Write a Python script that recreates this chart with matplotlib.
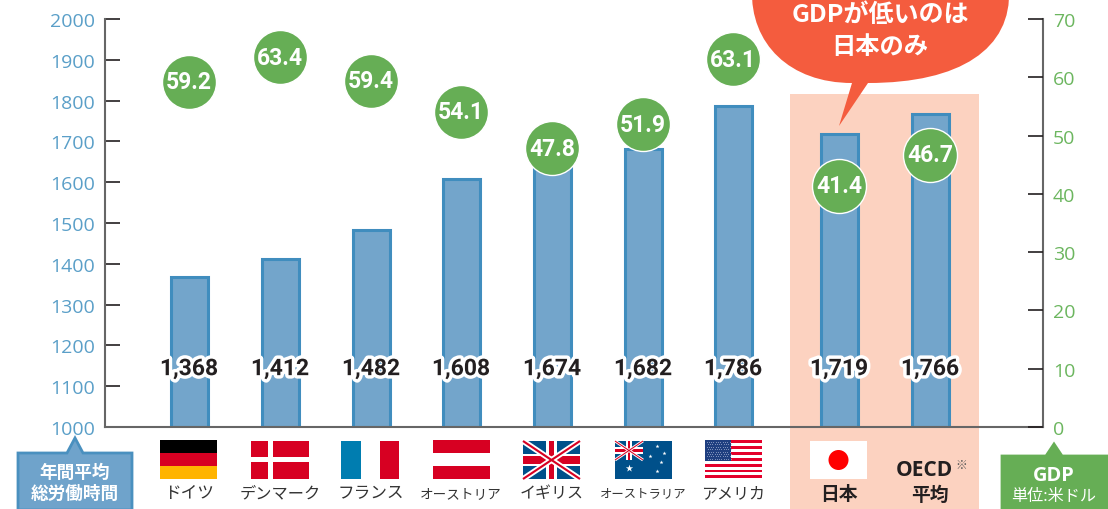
"""Working hours and GDP per hour, by country (bars + circles, flags under the axis)."""

import matplotlib
matplotlib.use('Agg')
import matplotlib.pyplot as plt
import matplotlib.patheffects as pe
from matplotlib.patches import Rectangle, Circle, Polygon, PathPatch
from matplotlib.path import Path

plt.rcParams['font.family'] = ['Open Sans', 'Noto Sans CJK JP', 'DejaVu Sans']

countries = ['ドイツ', 'デンマーク', 'フランス', 'オーストリア', 'イギリス',
             'オーストラリア', 'アメリカ', '日本', 'OECD平均']
hours = [1368, 1412, 1482, 1608, 1674, 1682, 1786, 1719, 1766]
gdp = [59.2, 63.4, 59.4, 54.1, 47.8, 51.9, 63.1, 41.4, 46.7]
hour_ticks = list(range(1000, 2001, 100))
gdp_ticks = list(range(0, 71, 10))

# bar centres, in figure pixels
bar_x = [189, 280, 371, 461, 552, 643, 733, 839, 930]

BAR_FILL = '#73A5CB'
BAR_EDGE = '#408DBE'
BLUE_TEXT = '#5A9FC8'
GREEN = '#66AE55'
GREEN_TEXT = '#6CB65F'
PEACH = '#FCD2C0'
RED = '#F45C3E'
AXIS_GREY = '#666666'
INK = '#231F20'
JP = ['Noto Sans CJK JP', 'DejaVu Sans']
NUM = ['Roboto', 'DejaVu Sans']
FLAG_RED = '#D70022'
NAVY = '#00508A'


def rect(pa, x, y, w, h, color):
    pa.add_patch(Rectangle((x, y), w, h, fc=color, ec='none'))


def germany(pa, x, y):
    for i, color in enumerate(['#000000', '#D70022', '#FFB400']):
        rect(pa, x, y + i * 13, 57, 13.1, color)


def denmark(pa, x, y):
    rect(pa, x, y, 58, 38, FLAG_RED)
    rect(pa, x + 17, y, 4.5, 38, 'white')
    rect(pa, x, y + 16, 58, 5, 'white')


def france(pa, x, y):
    rect(pa, x, y, 20, 38, '#007DB0')
    rect(pa, x + 39, y, 19, 38, FLAG_RED)


def austria(pa, x, y):
    rect(pa, x, y, 57, 13, FLAG_RED)
    rect(pa, x, y + 26, 57, 13, FLAG_RED)


def union_jack(pa, x, y, w, h):
    rect(pa, x, y, w, h, NAVY)
    pa.plot([x, x + w], [y, y + h], color='white', lw=h * 0.11, solid_capstyle='butt')
    pa.plot([x, x + w], [y + h, y], color='white', lw=h * 0.11, solid_capstyle='butt')
    pa.plot([x, x + w], [y, y + h], color=FLAG_RED, lw=h * 0.04, solid_capstyle='butt')
    pa.plot([x, x + w], [y + h, y], color=FLAG_RED, lw=h * 0.04, solid_capstyle='butt')
    rect(pa, x + w * 0.4, y, w * 0.2, h, 'white')
    rect(pa, x, y + h * 0.34, w, h * 0.32, 'white')
    rect(pa, x + w * 0.45, y, w * 0.1, h, FLAG_RED)
    rect(pa, x, y + h * 0.4, w, h * 0.2, FLAG_RED)


def australia(pa, x, y):
    rect(pa, x, y, 57, 38, NAVY)
    union_jack(pa, x, y, 28, 19)
    pa.scatter([x + 14], [y + 27], marker='*', s=30, color='white', linewidths=0)
    star_x = [42, 35, 49, 46, 42]
    star_y = [5, 15, 12, 21, 30]
    pa.scatter([x + i for i in star_x], [y + j for j in star_y], marker='*', s=9,
               color='white', linewidths=0)


def usa(pa, x, y):
    for i in range(13):
        if i % 2 == 0:
            rect(pa, x, y + i * 2.95, 57, 2.95, '#E4002B')
    rect(pa, x, y, 26, 20.6, '#1F3F80')
    for row in range(8):
        for col in range(11):
            pa.plot(x + 1.5 + col * 2.3 + (row % 2) * 1.1, y + 2 + row * 2.4, '.',
                    color='#B9C4DE', ms=1, mew=0)


def japan(pa, x, y):
    rect(pa, x, y, 57, 38, 'white')
    pa.add_patch(Circle((x + 28.5, y + 19), 10, fc='#FF0000', ec='none'))


def tag(pa, x0, x1, top, tip_x, tip_y, fill, edge):
    pts = [(x0, 511), (x0, top), (tip_x - 8, top), (tip_x, tip_y), (tip_x + 8, top),
           (x1, top), (x1, 511)]
    pa.add_patch(Polygon(pts, closed=True, fc=fill, ec=edge, lw=2))


def callout(pa):
    verts = [(752, -10), (750, 45), (790, 84), (852, 84), (839, 127), (868, 84),
             (960, 84), (1012, 50), (1009, -10), (752, -10)]
    codes = [Path.MOVETO, Path.CURVE4, Path.CURVE4, Path.CURVE4, Path.LINETO, Path.LINETO,
             Path.CURVE4, Path.CURVE4, Path.CURVE4, Path.CLOSEPOLY]
    pa.add_patch(PathPatch(Path(verts, codes), fc=RED, ec='none'))


fig = plt.figure(figsize=(11.08, 5.10), dpi=100)

# pixel layer under the chart, for the highlight band
under = fig.add_axes([0, 0, 1, 1], zorder=0)
under.set_xlim(0, 1108)
under.set_ylim(510, 0)
under.axis('off')
rect(under, 790, 95, 189, 415, PEACH)

# the chart itself
ax = fig.add_axes([105 / 1108, 82 / 510, 938 / 1108, 408 / 510], zorder=1)
ax.patch.set_alpha(0)
ax.set_xlim(105, 1043)
ax.set_ylim(1000, 2000)
ax.bar(bar_x, [h - 1000 for h in hours], bottom=1000, width=37, color=BAR_FILL,
       edgecolor=BAR_EDGE, linewidth=2.2)
ax.set_xticks([])
ax.set_yticks(hour_ticks)
ax.tick_params(axis='y', direction='in', length=11, width=1.2, color=INK,
               labelcolor=BLUE_TEXT, labelsize=14, pad=7)
ax.spines['top'].set_visible(False)
for side in ['left', 'bottom', 'right']:
    ax.spines[side].set_color(AXIS_GREY)
    ax.spines[side].set_linewidth(1.5)

for x, h in zip(bar_x, hours):
    ax.text(x, 1143, '{:,}'.format(h), ha='center', va='center', fontsize=16.5, fontweight='bold',
            family=NUM, color=INK,
            path_effects=[pe.withStroke(linewidth=5, foreground='white')])

ax2 = ax.twinx()
ax2.set_zorder(2)
ax2.patch.set_alpha(0)
ax2.set_ylim(0, 70)
ax2.set_yticks(gdp_ticks)
ax2.tick_params(axis='y', direction='in', length=11, width=1.2, color=INK,
                labelcolor=GREEN_TEXT, labelsize=14, pad=7)
for side in ['top', 'left', 'bottom', 'right']:
    ax2.spines[side].set_visible(False)
ax2.scatter(bar_x, gdp, s=1512, color=GREEN, edgecolor='white', linewidth=1, zorder=5, clip_on=False)
for x, g in zip(bar_x, gdp):
    ax2.text(x, g, '{:.1f}'.format(g), ha='center', va='center', fontsize=16.5, fontweight='bold',
             family=NUM, color='white', zorder=6)

# pixel layer on top: flags, tags, callout
pa = fig.add_axes([0, 0, 1, 1], zorder=3)
pa.patch.set_alpha(0)
pa.axis('off')

germany(pa, 160, 441)
denmark(pa, 251, 442)
france(pa, 341, 442)
austria(pa, 433, 441)
union_jack(pa, 523, 442, 57, 38)
australia(pa, 615, 442)
usa(pa, 705, 441)
japan(pa, 810, 442)
pa.set_xlim(0, 1108)
pa.set_ylim(510, 0)

label_size = [12, 11.7, 12, 9.8, 11.5, 8.9, 11.5]
for x, name, size in zip(bar_x, countries[:7], label_size):
    pa.text(x, 494, name, ha='center', va='center', fontsize=size, family=JP, color='#333333')
pa.text(839, 495, countries[7], ha='center', va='center', fontsize=13.5, fontweight='bold',
        family=JP, color=INK)
pa.text(924, 471, 'OECD', ha='center', va='center', fontsize=15, fontweight='bold', color=INK)
pa.text(961, 466, '※', ha='center', va='center', fontsize=8.5, family=JP, color='#555555')
pa.text(930, 495, '平均', ha='center', va='center', fontsize=13.5, fontweight='bold', family=JP,
        color=INK)

tag(pa, 18, 132, 454, 75, 439, '#6FA3CB', '#4A90BF')
pa.text(75, 473, '年間平均', ha='center', va='center', fontsize=12.7, fontweight='bold', family=JP,
        color='white')
pa.text(75, 494, '総労働時間', ha='center', va='center', fontsize=12.7, fontweight='bold', family=JP,
        color='white')

tag(pa, 1002, 1112, 457, 1054, 445, GREEN, GREEN)
pa.text(1054, 476, 'GDP', ha='center', va='center', fontsize=14.4, fontweight='bold', color='white')
pa.text(1054, 497, '単位:米ドル', ha='center', va='center', fontsize=11.6, family=JP, color='white')

callout(pa)
pa.text(880, 15, 'GDPが低いのは', ha='center', va='center', fontsize=18, fontweight='bold',
        family=JP, color='white')
pa.text(880, 47, '日本のみ', ha='center', va='center', fontsize=17.5, fontweight='bold', family=JP,
        color='white')

fig.savefig('out.png', dpi=100)
